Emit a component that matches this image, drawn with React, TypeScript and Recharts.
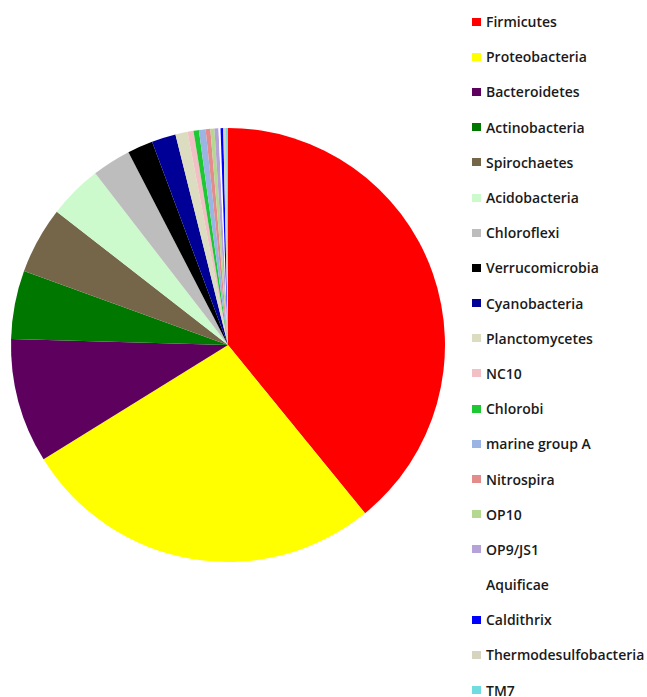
import React from "react";
import { PieChart, Pie, Cell, Legend } from "recharts";

// Relative abundance (%) of bacterial phyla
const phyla = [
  "Firmicutes",
  "Proteobacteria",
  "Bacteroidetes",
  "Actinobacteria",
  "Spirochaetes",
  "Acidobacteria",
  "Chloroflexi",
  "Verrucomicrobia",
  "Cyanobacteria",
  "Planctomycetes",
  "NC10",
  "Chlorobi",
  "marine group A",
  "Nitrospira",
  "OP10",
  "OP9/JS1",
  "Aquificae",
  "Caldithrix",
  "Thermodesulfobacteria",
  "TM7",
];

const abundance = [
  39.2, 27.1, 9.3, 5.1, 5.0, 4.0, 2.9, 1.9, 1.8, 0.9, 0.45, 0.4, 0.5, 0.35, 0.3,
  0.3, 0.15, 0.2, 0.2, 0.15,
];

const colors = [
  "#ff0000",
  "#ffff00",
  "#5e005e",
  "#007800",
  "#75664a",
  "#ccfacc",
  "#bdbdbd",
  "#000000",
  "#000096",
  "#dcdcc0",
  "#f2c0c4",
  "#1ec832",
  "#9ab4e4",
  "#e48c8c",
  "#b4d890",
  "#b4a2d8",
  "#ffffff",
  "#0000ff",
  "#d6d4be",
  "#70dce0",
];

const data = phyla.map((name, i) => ({ name, value: abundance[i] }));

const ROW_H = 35.2;

const LegendList = () => (
  <div style={{ fontFamily: "'Open Sans', sans-serif", fontSize: 14, fontWeight: 600, color: "#1a1a1a" }}>
    {phyla.map((name, i) => (
      <div
        key={name}
        style={{ height: ROW_H, display: "flex", alignItems: "center", whiteSpace: "nowrap" }}
      >
        <span
          style={{
            display: "inline-block",
            width: 9,
            height: 8,
            background: colors[i],
            marginRight: 5,
            flexShrink: 0,
          }}
        />
        <span>{name}</span>
      </div>
    ))}
  </div>
);

export default function App() {
  return (
    <div style={{ position: "absolute", left: 0, top: 0, background: "#fff" }}>
      <PieChart width={647} height={697} margin={{ top: 0, right: 0, bottom: 0, left: 0 }}>
        <Pie
          data={data}
          dataKey="value"
          nameKey="name"
          cx={228}
          cy={345}
          outerRadius={217}
          startAngle={90}
          endAngle={-270}
          stroke="none"
          isAnimationActive={false}
        >
          {data.map((d, i) => (
            <Cell key={d.name} fill={colors[i]} />
          ))}
        </Pie>
        <Legend
          layout="vertical"
          verticalAlign="top"
          align="right"
          content={<LegendList />}
          wrapperStyle={{ left: 472, top: 4, width: 175 }}
        />
      </PieChart>
    </div>
  );
}
